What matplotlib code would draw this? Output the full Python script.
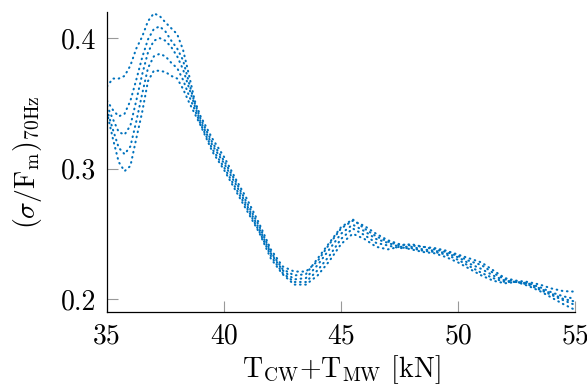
import matplotlib
matplotlib.use("Agg")
import matplotlib.pyplot as plt
import numpy as np

# load values (kN)
x = [35, 35.25, 35.5, 35.75, 36, 36.25, 36.5, 36.75, 37, 37.25, 37.5, 37.75,
     38, 38.25, 38.5, 38.75, 39, 39.5, 40, 40.5, 41, 41.5, 42, 42.5, 43,
     43.5, 44, 44.5, 45, 45.5, 46, 46.5, 47, 47.5, 48, 48.5, 49, 49.5, 50,
     50.5, 51, 51.5, 52, 52.5, 53, 53.5, 54, 54.5, 55]

run1 = [0.363, 0.369, 0.369, 0.371, 0.379, 0.392, 0.401, 0.413, 0.419, 0.417,
        0.412, 0.4075, 0.403, 0.391, 0.372, 0.352, 0.340, 0.323, 0.309, 0.292,
        0.276, 0.258, 0.238, 0.225, 0.221, 0.221, 0.229, 0.242, 0.254, 0.260,
        0.256, 0.250, 0.245, 0.242, 0.241, 0.240, 0.239, 0.237, 0.234, 0.231,
        0.228, 0.222, 0.216, 0.214, 0.213, 0.211, 0.208, 0.206, 0.2056]
run2 = [0.352, 0.345, 0.340, 0.342, 0.352, 0.368, 0.385, 0.399, 0.407, 0.409,
        0.405, 0.398, 0.392, 0.383, 0.366, 0.350, 0.338, 0.320, 0.306, 0.290,
        0.273, 0.256, 0.236, 0.223, 0.218, 0.219, 0.231, 0.243, 0.255, 0.261,
        0.254, 0.248, 0.244, 0.241, 0.242, 0.240, 0.238, 0.236, 0.233, 0.229,
        0.226, 0.220, 0.215, 0.213, 0.212, 0.209, 0.205, 0.202, 0.200]
run3 = [0.348, 0.338, 0.328, 0.326, 0.333, 0.352, 0.372, 0.389, 0.398, 0.400,
        0.398, 0.393, 0.386, 0.376, 0.362, 0.348, 0.336, 0.318, 0.304, 0.288,
        0.271, 0.254, 0.235, 0.222, 0.215, 0.216, 0.226, 0.238, 0.250, 0.257,
        0.252, 0.246, 0.243, 0.240, 0.240, 0.238, 0.237, 0.235, 0.232, 0.227,
        0.223, 0.218, 0.214, 0.213, 0.212, 0.208, 0.204, 0.200, 0.198]
run4 = [0.345, 0.330, 0.316, 0.311, 0.317, 0.336, 0.357, 0.377, 0.386, 0.388,
        0.386, 0.381, 0.377, 0.368, 0.356, 0.345, 0.334, 0.315, 0.301, 0.285,
        0.269, 0.252, 0.233, 0.220, 0.213, 0.213, 0.222, 0.233, 0.246, 0.254,
        0.249, 0.243, 0.241, 0.239, 0.239, 0.237, 0.236, 0.234, 0.230, 0.225,
        0.220, 0.216, 0.213, 0.213, 0.211, 0.207, 0.203, 0.199, 0.1954]
run5 = [0.343, 0.323, 0.305, 0.298, 0.302, 0.323, 0.343, 0.367, 0.375, 0.375,
        0.374, 0.371, 0.369, 0.361, 0.351, 0.342, 0.333, 0.313, 0.299, 0.283,
        0.267, 0.251, 0.231, 0.219, 0.211, 0.211, 0.218, 0.229, 0.242, 0.250,
        0.246, 0.240, 0.238, 0.240, 0.238, 0.236, 0.235, 0.232, 0.228, 0.223,
        0.218, 0.214, 0.212, 0.213, 0.210, 0.206, 0.201, 0.196, 0.1916]

xticks = [35, 40, 45, 50, 55]
yticks = [0.2, 0.3, 0.4]

plt.rcParams['font.family'] = 'serif'
plt.rcParams['font.serif'] = ['cmr10', 'DejaVu Serif']
plt.rcParams['mathtext.fontset'] = 'cm'
plt.rcParams['axes.formatter.use_mathtext'] = True

fig = plt.figure(figsize=(5.87, 3.89), dpi=100)
ax = fig.add_axes([0.1823, 0.198, 0.7973, 0.771])

for run in [run1, run2, run3, run4, run5]:
    ax.plot(x, run, color='#0072BD', linewidth=1.5,
            dashes=(0.3, 2.2), dash_capstyle='round')

ax.set_xlim(35, 55)
ax.set_ylim(0.19, 0.42)
ax.set_xticks(xticks)
ax.set_xticklabels([str(t) for t in xticks])
ax.set_yticks(yticks)
ax.set_yticklabels(['0.2', '0.3', '0.4'])

ax.spines['top'].set_visible(False)
ax.spines['right'].set_visible(False)
ax.spines['left'].set_linewidth(0.9)
ax.spines['bottom'].set_linewidth(0.9)
ax.tick_params(direction='in', length=8, width=0.8, color='#999999',
               labelsize=20, pad=8)

ax.set_xlabel(r'$\mathrm{T_{CW}{+}T_{MW}}$ [kN]', fontsize=20, labelpad=3)
ax.set_ylabel(r'$(\sigma/\mathrm{F_m})_{\mathrm{70Hz}}$', fontsize=20,
              labelpad=12)

fig.savefig('out.png', dpi=100)
